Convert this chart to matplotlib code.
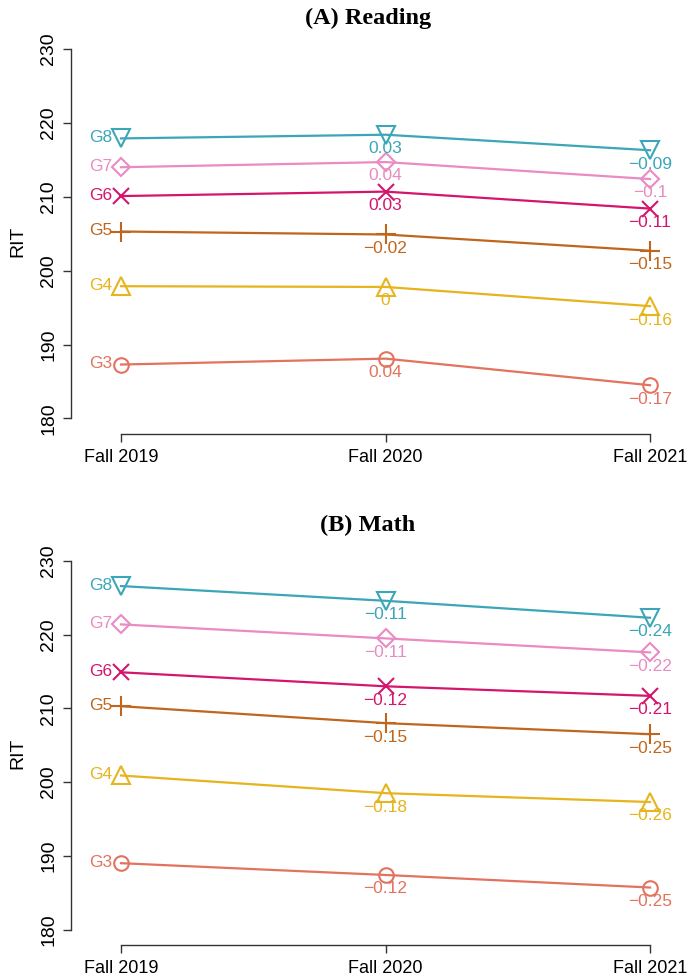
import matplotlib
matplotlib.use("Agg")
import matplotlib.pyplot as plt

# Terms on the x axis
terms = ["Fall 2019", "Fall 2020", "Fall 2021"]
grades = ["G3", "G4", "G5", "G6", "G7", "G8"]

# Mean RIT scores by grade (rows follow `grades`)
reading_rit = [
    [187.3, 188.1, 184.5],
    [197.9, 197.8, 195.2],
    [205.3, 204.9, 202.7],
    [210.1, 210.7, 208.4],
    [214.0, 214.7, 212.4],
    [217.9, 218.4, 216.3],
]
math_rit = [
    [189.0, 187.4, 185.7],
    [200.9, 198.5, 197.3],
    [210.3, 208.0, 206.5],
    [214.9, 213.0, 211.7],
    [221.4, 219.5, 217.6],
    [226.6, 224.6, 222.3],
]

# Effect sizes relative to Fall 2019 (Fall 2020, Fall 2021)
reading_es = [
    ["0.04", "\u22120.17"],
    ["0", "\u22120.16"],
    ["\u22120.02", "\u22120.15"],
    ["0.03", "\u22120.11"],
    ["0.04", "\u22120.1"],
    ["0.03", "\u22120.09"],
]
math_es = [
    ["\u22120.12", "\u22120.25"],
    ["\u22120.18", "\u22120.26"],
    ["\u22120.15", "\u22120.25"],
    ["\u22120.12", "\u22120.21"],
    ["\u22120.11", "\u22120.22"],
    ["\u22120.11", "\u22120.24"],
]

colors = ["#E2735F", "#E6B41C", "#C0661C", "#D4156E", "#EA8BC2", "#3AA6B8"]
markers = ["o", "^", "+", "x", "D", "v"]
msizes = [10.5, 13, 15, 12, 9.5, 13]

SANS = ["Liberation Sans", "DejaVu Sans"]
SERIF = ["Liberation Serif", "DejaVu Serif"]
XTICK_FS, YTICK_FS, LAB_FS = 13, 14, 12.5

W, H = 687, 980
fig = plt.figure(figsize=(W / 100, H / 100), dpi=100)


def make_axes(top_px, bottom_px):
    left_px, right_px = 71, 672
    return fig.add_axes([left_px / W, 1 - bottom_px / H,
                         (right_px - left_px) / W, (bottom_px - top_px) / H])


def panel(ax, data, es, title, title_y):
    x = [1, 2, 3]
    for i, g in enumerate(grades):
        ax.plot(x, data[i], color=colors[i], lw=1.6, marker=markers[i],
                ms=msizes[i], mfc="none", mec=colors[i], mew=1.5,
                clip_on=False, zorder=3)
        ax.annotate(g, (x[0], data[i][0]), xytext=(-6, 0.5),
                    textcoords="offset points", ha="right", va="center",
                    color=colors[i], fontsize=LAB_FS, family=SANS)
        for j in (1, 2):
            ax.annotate(es[i][j - 1], (x[j], data[i][j]), xytext=(0, -10),
                        textcoords="offset points", ha="center", va="center",
                        color=colors[i], fontsize=LAB_FS, family=SANS)

    ax.set_xlim(0.811, 3.083)
    ax.set_ylim(177.9, 230)
    for s in ("top", "right"):
        ax.spines[s].set_visible(False)
    ax.spines["left"].set_bounds(180, 230)
    ax.spines["bottom"].set_bounds(1, 3)
    for s in ("left", "bottom"):
        ax.spines[s].set_color("#333333")
        ax.spines[s].set_linewidth(1.0)
    ax.set_yticks([180, 190, 200, 210, 220, 230])
    ax.set_xticks(x)
    ax.set_xticklabels(terms)
    ax.tick_params(axis="both", direction="out", length=6, width=1.0,
                   colors="#333333", labelcolor="black")
    ax.tick_params(axis="x", labelsize=XTICK_FS, pad=5)
    ax.tick_params(axis="y", labelsize=YTICK_FS, pad=4)
    for lab in ax.get_yticklabels():
        lab.set_rotation(90)
        lab.set_va("center")
        lab.set_family(SANS)
    for lab in ax.get_xticklabels():
        lab.set_family(SANS)
    ax.set_ylabel("RIT", fontsize=YTICK_FS, family=SANS, labelpad=10)
    fig.text(368 / W, 1 - title_y / H, title, ha="center", va="center",
             fontsize=17.5, fontweight="bold", family=SERIF)


ax1 = make_axes(49, 434)
panel(ax1, reading_rit, reading_es, "(A) Reading", 18)

ax2 = make_axes(561, 945)
panel(ax2, math_rit, math_es, "(B) Math", 525)

fig.savefig("out.png", dpi=100)
